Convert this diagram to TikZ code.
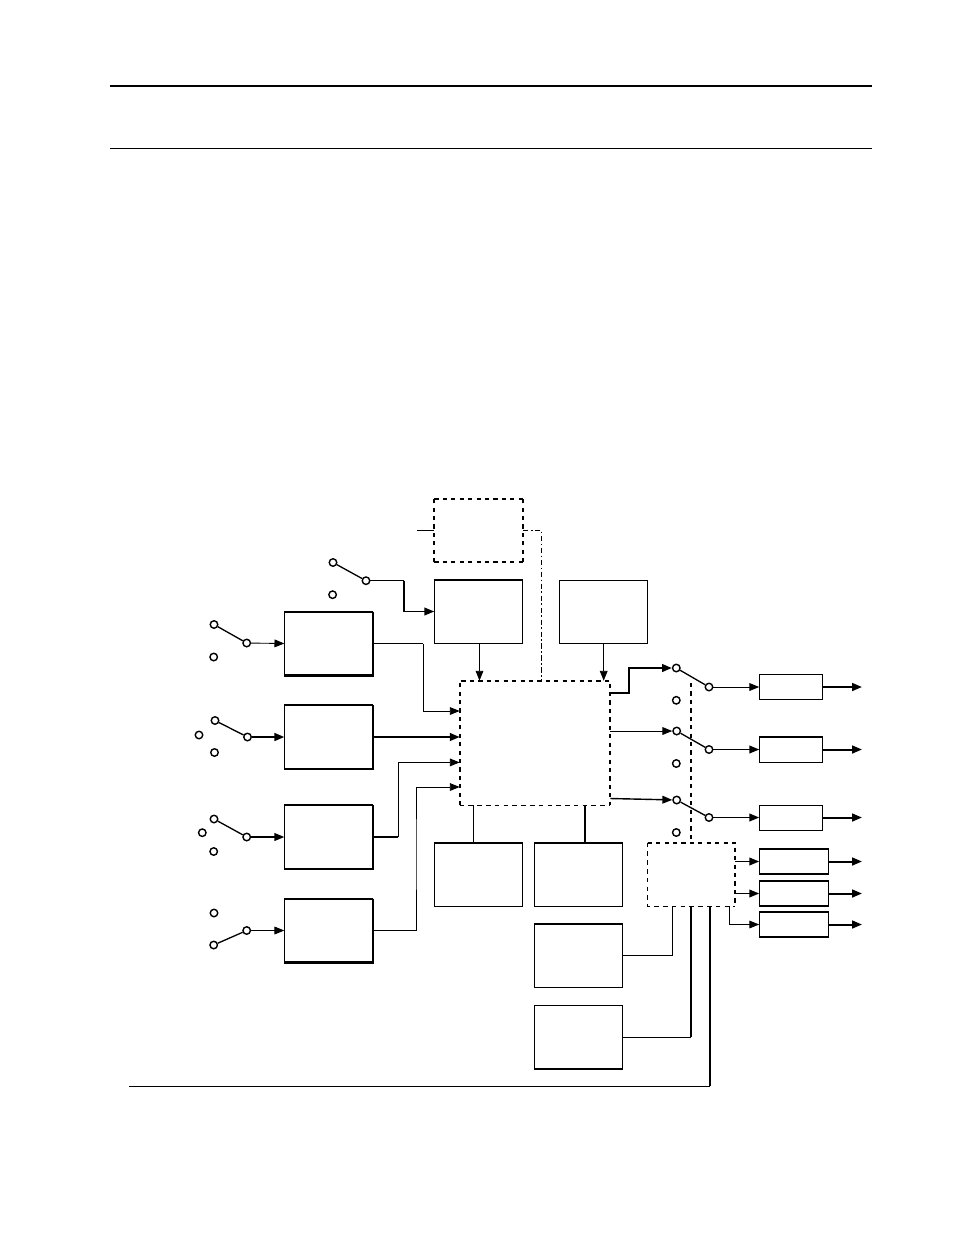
\documentclass[tikz,border=0pt]{standalone}
\usepackage{tikz}
\usetikzlibrary{arrows.meta,positioning,calc}

\tikzset{
  block/.style={draw, line width=0.55pt, inner sep=0pt, minimum width=1.76cm, minimum height=1.26cm},
  outbox/.style={draw, line width=0.55pt, inner sep=0pt, minimum width=1.26cm, minimum height=0.5cm},
  auxbox/.style={draw, line width=0.6pt, inner sep=0pt, minimum width=1.38cm, minimum height=0.5cm},
  ghost/.style={inner sep=0pt},
  term/.style={circle, draw, fill=white, line width=0.8pt, inner sep=0pt, minimum size=0.15cm},
  arm/.style={line width=0.75pt},
  wire/.style={line width=0.5pt},
  wirem/.style={line width=0.8pt},
  wireh/.style={line width=1.15pt},
  heavy/.style={line width=1.3pt},
  dashh/.style={line width=1.05pt, dash pattern=on 2.4pt off 2.4pt},
  dashl/.style={line width=0.55pt, dash pattern=on 2.6pt off 2.4pt},
}

\begin{document}
\begin{tikzpicture}[x=0.02cm,y=-0.02cm,>={Triangle[length=5.6pt,width=4.4pt]}]
  \useasboundingbox (0,0) rectangle (954,1235);

  \coordinate (ruleAl) at (110,86);
  \coordinate (ruleAr) at (872,86);
  \coordinate (ruleBl) at (110,148);
  \coordinate (ruleBr) at (872,148);
  \draw[line width=0.95pt] (ruleAl) -- (ruleAr);
  \draw[line width=0.5pt] (ruleBl) -- (ruleBr);

  \node[ghost, minimum width=1.76cm, minimum height=1.26cm] (ctrl) at (478.7,530.5) {};
  \node[block] (tune) at (478.7,611.5) {};
  \node[block] (clock) at (603.7,611.5) {};
  \node[block] (inA) at (328.8,643.5) {};
  \node[block] (inB) at (328.8,737) {};
  \node[block] (inC) at (328.8,837) {};
  \node[block] (inD) at (328.8,930.5) {};
  \node[ghost, minimum width=3cm, minimum height=2.48cm] (core) at (535,743) {};
  \node[block] (memA) at (478.7,874.5) {};
  \node[block] (memB) at (578.7,874.5) {};
  \node[block] (memC) at (578.7,955.5) {};
  \node[block] (memD) at (578.7,1037) {};
  \node[ghost, minimum width=1.74cm, minimum height=1.26cm] (aux) at (691.5,874.5) {};

  \node[outbox] (outA) at (791.2,687) {};
  \node[outbox] (outB) at (791.2,749.5) {};
  \node[outbox] (outC) at (791.2,817.5) {};
  \node[auxbox] (outD) at (794.2,861.5) {};
  \node[auxbox] (outE) at (794.2,893.5) {};
  \node[auxbox] (outF) at (794.2,924.5) {};

  \foreach \n in {inA,inB,inC,inD}{
    \draw[heavy] (\n.north east) -- (\n.south east) -- (\n.south west);
    \draw[wirem] (\n.south west) -- (\n.north west) -- (\n.north east);
  }
  \foreach \n in {tune,memA,memB,memC}{
    \draw[wirem] (\n.south west) -- (\n.north west) -- (\n.north east);
  }
  \draw[wirem] (memD.north west) -- (memD.south west) -- (memD.south east);
  \draw[wirem] (outB.south west) -- (outB.north west) -- (outB.north east);
  \draw[wirem] (outD.south west) -- (outD.south east);
  \draw[wirem] (outF.south west) -- (outF.south east);

  \draw[dashh] (ctrl.south west) -- (ctrl.north west);
  \draw[dashh] (ctrl.north west) -- (ctrl.north east);
  \draw[dashh] (ctrl.south west) -- (ctrl.south east);
  \draw[dashh] (ctrl.south east) -- (ctrl.north east);
  \draw[dashh] (core.south west) -- (core.north west) -- (core.north east) -- (core.south east);
  \draw[dashl] (core.south west) -- (core.south east);
  \draw[dashh] (aux.north west) -- (aux.north east) -- (aux.south east);
  \draw[dashl] (aux.north west) -- (aux.south west) -- (aux.south east);

  \coordinate (seam) at (691,683);
  \draw[dashh] (seam) -- (seam |- aux.north);

  \foreach \n/\x/\y in {tA/333/562.5, tB/366/580.7, tC/332.6/594.7,
      aA/214/624.5, aB/246.7/643, aC/213.7/657,
      bA/215/720.5, bB/247.5/737, bC/214.5/752.5, bD/199/735,
      cA/214/819, cB/246.7/837, cC/213.7/851.5, cD/202.3/832.7,
      dA/214/913, dB/246.7/930.5, dC/213.7/945,
      pA/676.3/668, pB/709/687, pC/676.3/700.3,
      qA/676.7/731, qB/709/749.5, qC/676.3/763.5,
      rA/676.7/800, rB/709/817.5, rC/676.3/832.5}{
    \node[term] (\n) at (\x,\y) {};
  }

  \draw[arm] (tA) -- (tB);
  \draw[arm] (aA) -- (aB);
  \draw[arm] (bA) -- (bB);
  \draw[arm] (cA) -- (cB);
  \draw[arm] (dC) -- (dB);
  \draw[arm] (pA) -- (pB);
  \draw[arm] (qA) -- (qB);
  \draw[arm] (rA) -- (rB);

  \draw[wire, ->] (aB) -- (inA.west);
  \draw[wireh, ->] (bB) -- (inB.west);
  \draw[wirem, ->] (cB) -- (inC.west);
  \draw[wire, ->] (dB) -- (inD.west);

  \coordinate (coreA) at (core.west |- 0,711);
  \coordinate (coreB) at (core.west |- 0,737);
  \coordinate (coreC) at (core.west |- 0,762.4);
  \coordinate (coreD) at (core.west |- 0,787);
  \draw[wirem] (inA.east) -- (423,643.5);
  \draw[wire, ->] (423,643.5) |- (coreA);
  \draw[wireh, ->] (inB.east) -- (coreB);
  \draw[wireh] (inC.east) -- (398,837);
  \draw[wire, ->] (398,837) |- (coreC);
  \draw[wire, ->] (inD.east) -| (416,850) |- (coreD);

  \coordinate (ctrlin) at (417,530);
  \draw[wire] (ctrlin) -- (ctrl.west |- ctrlin);
  \coordinate (ctrlout) at (541,530);
  \draw[line width=0.4pt, dash pattern=on 3pt off 1.4pt on 1pt off 1.4pt] (ctrl.east |- ctrlout) -- (ctrlout) -- (ctrlout |- core.north);

  \draw[wire] (tB) -- (404,580.7);
  \draw[wirem, ->] (404,580.7) |- (tune.west);

  \draw[wire, ->] (tune.south -| 479.5,0) -- (core.north -| 479.5,0);
  \draw[wire, ->] (clock.south) -- (clock.south |- core.north);

  \coordinate (coreP) at (core.east |- 0,693);
  \coordinate (coreQ) at (core.east |- 0,731);
  \coordinate (coreR) at (core.east |- 0,798.5);
  \draw[wireh, ->] (coreP) -| (629,680) |- (pA);
  \draw[wire, ->] (coreQ) -- (qA);
  \draw[wirem, ->] (coreR) -- (rA);

  \draw[wire, ->] (pB) -- (outA.west);
  \draw[wirem, ->] (qB) -- (outB.west);
  \draw[wirem, ->] (rB) -- (outC.west);

  \coordinate (rim) at (862,0);
  \foreach \n in {outA,outB,outC,outD,outE,outF}{
    \draw[wireh, ->] (\n.east) -- (\n.east -| rim);
  }
  \draw[wirem, ->] (aux.east |- outD) -- (outD.west);
  \draw[wirem, ->] (aux.east |- outE) -- (outE.west);
  \draw[wire, ->] (aux.south -| 729,0) |- (outF.west);

  \draw[wire] (core.south -| 473,0) -- (memA.north -| 473,0);
  \draw[wireh] (core.south -| 585,0) -- (memB.north -| 585,0);
  \draw[wire] (memC.east) -| (aux.south -| 672.3,0);
  \draw[wire] (memD.east) -- (691,1037);
  \draw[wireh] (691,1037) -- (aux.south -| 691,0);
  \coordinate (feed) at (129,1086.4);
  \draw[wire] (feed) -- (710,1086.4);
  \draw[wireh] (710,1086.4) -- (aux.south -| 710,0);
\end{tikzpicture}
\end{document}
